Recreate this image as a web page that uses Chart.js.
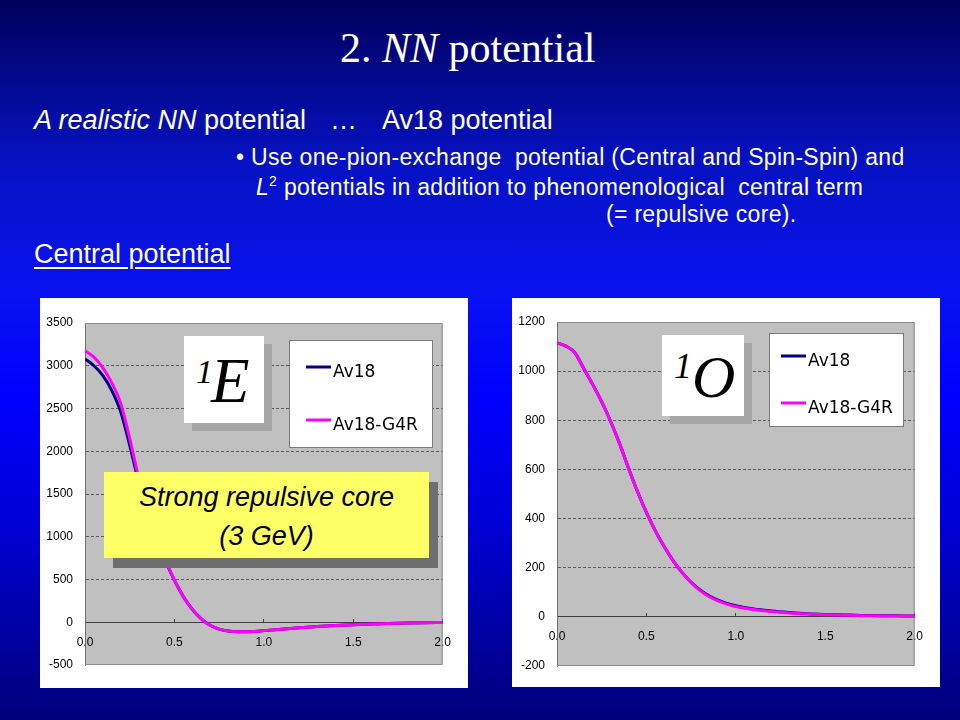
<!DOCTYPE html>
<html>
<head>
<meta charset="utf-8">
<script src="https://cdn.jsdelivr.net/npm/chart.js@4.4.1/dist/chart.umd.min.js"></script>
<style>
  html, body { margin: 0; padding: 0; }
  body {
    width: 960px; height: 720px; overflow: hidden; position: relative;
    background: linear-gradient(to bottom, #00005a 0%, #0612c0 22%, #0a12f0 40%, #0000ff 55%, #0000d8 72%, #0000a8 86%, #00007a 100%);
    font-family: "Liberation Sans", Arial, sans-serif; color: #fff;
  }
  .t { position: absolute; white-space: pre; line-height: 1; }
  .serif { font-family: "Liberation Serif", "Times New Roman", serif; }
  .bul { font-size: 23px; letter-spacing: 0.3px; }
  .panel { position: absolute; background: #fff; }
  .box { position: absolute; }
</style>
</head>
<body>

<div class="t serif" style="left:340px; top:27px; font-size:42px;">2. <i>NN</i> potential</div>
<div class="t" style="left:34px; top:107px; font-size:27px;"><i>A realistic NN</i> potential</div>
<div class="t" style="left:330px; top:107px; font-size:27px;">…</div>
<div class="t" style="left:382px; top:107px; font-size:27px;">Av18 potential</div>
<div class="t bul" style="left:236px; top:146px;">• Use one-pion-exchange  potential (Central and Spin-Spin) and</div>
<div class="t bul" style="left:256px; top:174px;"><i>L</i><sup style="font-size:14px; vertical-align:9px;">2</sup> potentials in addition to phenomenological  central term</div>
<div class="t bul" style="left:606px; top:203px;">(= repulsive core).</div>
<div class="t" style="left:34px; top:241px; font-size:27px; text-decoration:underline; text-decoration-thickness:2px; text-underline-offset:4px;">Central potential</div>

<div class="panel" style="left:40px; top:298px; width:428px; height:390px;">
  <canvas id="evenChart" width="428" height="390"></canvas>
</div>
<div class="panel" style="left:512px; top:298px; width:428px; height:389px;">
  <canvas id="oddChart" width="428" height="389"></canvas>
</div>

<!-- 1E label -->
<div class="box" style="left:192px; top:344px; width:80px; height:87px; background:#a6a6a6;"></div>
<div class="box" style="left:184px; top:336px; width:80px; height:87px; background:#fff;"></div>
<div class="t serif" style="left:196px; top:355px; font-size:34px; color:#000;"><i>1</i></div>
<div class="t serif" style="left:211px; top:350px; font-size:63px; color:#000;"><i>E</i></div>

<!-- 1O label -->
<div class="box" style="left:670px; top:343px; width:82px; height:81px; background:#a6a6a6;"></div>
<div class="box" style="left:662px; top:335px; width:82px; height:81px; background:#fff;"></div>
<div class="t serif" style="left:674px; top:348px; font-size:36px; color:#000;"><i>1</i></div>
<div class="t serif" style="left:692px; top:347px; font-size:60px; color:#000;"><i>O</i></div>

<!-- yellow note -->
<div class="box" style="left:113px; top:482px; width:325px; height:86px; background:#6e6e6e;"></div>
<div class="box" style="left:104px; top:472px; width:325px; height:86px; background:#ffff66; color:#000; text-align:center; font-style:italic; font-size:27px; line-height:39px; padding-top:6px; box-sizing:border-box;">Strong repulsive core<br>(3 GeV)</div>

<script>
// r [fm] sample points
const rValues = [0, 0.05, 0.1, 0.15, 0.2, 0.25, 0.3, 0.35, 0.4, 0.45, 0.5, 0.55, 0.6, 0.65, 0.7, 0.75,
                 0.8, 0.85, 0.9, 0.95, 1.0, 1.1, 1.2, 1.3, 1.4, 1.5, 1.6, 1.7, 1.8, 1.9, 2.0];

// 1E channel (MeV)
const evenAv18 = [3080, 3000, 2885, 2710, 2460, 2070, 1640, 1270, 975, 720, 490, 300, 150, 40, -35, -80,
                  -103, -112, -112, -107, -98, -81, -65, -51, -39, -29, -21, -14, -9, -5, -2];
const evenG4R  = [3175, 3100, 2975, 2800, 2560, 2150, 1690, 1300, 990, 728, 492, 300, 150, 40, -35, -80,
                  -103, -112, -112, -107, -98, -81, -65, -51, -39, -29, -21, -14, -9, -5, -2];

// 1O channel (MeV)
const oddAv18 = [1115, 1102, 1075, 1010, 945, 875, 795, 705, 605, 510, 425, 350, 285, 228, 180, 141,
                 110, 86, 68, 55, 45, 32, 24, 18, 13, 10, 8, 6, 5, 4, 3];
const oddG4R  = [1115, 1102, 1075, 1010, 945, 875, 795, 705, 605, 510, 425, 350, 285, 228, 180, 139,
                 107, 83, 65, 52, 42, 30, 22, 16, 12, 9, 7, 5, 4, 3, 2];

const seriesNames = ['Av18', 'Av18-G4R'];
const seriesColors = ['#000080', '#ff00ff'];

const xTicks = [0, 0.5, 1.0, 1.5, 2.0];
const evenYTicks = [-500, 0, 500, 1000, 1500, 2000, 2500, 3000, 3500];
const oddYTicks = [-200, 0, 200, 400, 600, 800, 1000, 1200];

const tickFont = { family: 'Liberation Sans', size: 12 };

// gray plot area with a light frame (Excel style)
const plotFrame = {
  id: 'plotFrame',
  beforeDraw(chart) {
    const { ctx, chartArea: a } = chart;
    ctx.save();
    ctx.fillStyle = '#c0c0c0';
    ctx.fillRect(a.left, a.top, a.right - a.left, a.bottom - a.top);
    ctx.restore();
  },
  beforeDatasetsDraw(chart) {
    const { ctx, chartArea: a } = chart;
    ctx.save();
    ctx.strokeStyle = '#8c8c8c';
    ctx.lineWidth = 1;
    ctx.beginPath();
    ctx.moveTo(a.left, a.top + 0.5);
    ctx.lineTo(a.right - 0.5, a.top + 0.5);
    ctx.lineTo(a.right - 0.5, a.bottom - 0.5);
    ctx.lineTo(a.left, a.bottom - 0.5);
    ctx.stroke();
    ctx.restore();
  }
};

// legend box drawn inside the plot
const boxLegend = {
  id: 'boxLegend',
  afterDraw(chart, args, opts) {
    const ctx = chart.ctx;
    ctx.save();
    ctx.fillStyle = '#fff';
    ctx.fillRect(opts.x, opts.y, opts.w, opts.h);
    ctx.strokeStyle = '#7a7a7a';
    ctx.lineWidth = 1;
    ctx.strokeRect(opts.x + 0.5, opts.y + 0.5, opts.w - 1, opts.h - 1);
    ctx.font = '17px "DejaVu Sans"';
    ctx.textBaseline = 'alphabetic';
    ctx.fillStyle = '#000';
    chart.data.datasets.forEach((ds, i) => {
      const y = opts.rows[i];
      ctx.strokeStyle = ds.borderColor;
      ctx.lineWidth = 3;
      ctx.beginPath();
      ctx.moveTo(opts.lineX, y);
      ctx.lineTo(opts.lineX + 25, y);
      ctx.stroke();
      ctx.fillText(ds.label, opts.lineX + 27, y + 10);
    });
    ctx.restore();
  }
};

function makeChart(canvasId, av18, g4r, yTicks, pad, legendOpts) {
  const yMin = yTicks[0], yMax = yTicks[yTicks.length - 1];
  return new Chart(document.getElementById(canvasId), {
    type: 'line',
    data: {
      datasets: [
        {
          label: seriesNames[0],
          data: rValues.map((r, i) => ({ x: r, y: av18[i] })),
          borderColor: seriesColors[0],
          borderWidth: 3,
          pointRadius: 0,
          cubicInterpolationMode: 'monotone',
          order: 1
        },
        {
          label: seriesNames[1],
          data: rValues.map((r, i) => ({ x: r, y: g4r[i] })),
          borderColor: seriesColors[1],
          borderWidth: 3,
          pointRadius: 0,
          cubicInterpolationMode: 'monotone',
          order: 0
        }
      ]
    },
    options: {
      responsive: false,
      animation: false,
      layout: { padding: pad },
      plugins: {
        legend: { display: false },
        tooltip: { enabled: false },
        boxLegend: legendOpts
      },
      scales: {
        x: {
          type: 'linear',
          min: xTicks[0],
          max: xTicks[xTicks.length - 1],
          position: { y: 0 },
          afterFit: s => { s.height = 0; },
          grid: { drawOnChartArea: false, drawTicks: true, tickLength: -4, color: '#404040', tickColor: '#404040' },
          border: { color: '#404040', width: 1 },
          ticks: {
            stepSize: xTicks[1] - xTicks[0],
            padding: 17,
            color: '#000',
            font: tickFont,
            maxRotation: 0,
            autoSkip: false,
            callback: v => Number(v).toFixed(1)
          }
        },
        y: {
          min: yMin,
          max: yMax,
          afterFit: s => { s.width = 45; },
          grid: {
            drawTicks: false,
            color: c => (c.tick.value === 0 || c.tick.value === yMin || c.tick.value === yMax) ? 'rgba(0,0,0,0)' : '#5a5a5a'
          },
          border: { color: '#707070', dash: [3, 2] },
          ticks: {
            stepSize: yTicks[1] - yTicks[0],
            padding: 12,
            color: '#000',
            font: tickFont,
            callback: v => String(v)
          }
        }
      }
    },
    plugins: [plotFrame, boxLegend]
  });
}

makeChart('evenChart', evenAv18, evenG4R, evenYTicks,
  { top: 25, right: 17, bottom: 23, left: 0 },
  { x: 249, y: 42, w: 144, h: 108, lineX: 266, rows: [69, 122] });

makeChart('oddChart', oddAv18, oddG4R, oddYTicks,
  { top: 24, right: 16, bottom: 21, left: 0 },
  { x: 257, y: 35, w: 135, h: 94, lineX: 269, rows: [58, 105] });
</script>
</body>
</html>
